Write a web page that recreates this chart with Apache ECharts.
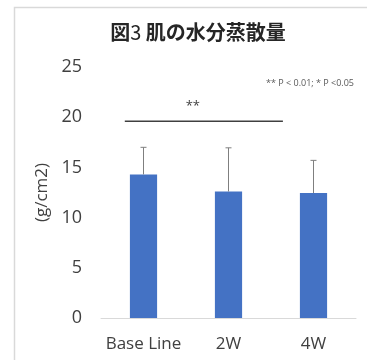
<!DOCTYPE html>
<html>
<head>
<meta charset="utf-8">
<script src="https://cdn.jsdelivr.net/npm/echarts@6/dist/echarts.min.js"></script>
<style>
  html, body { margin: 0; padding: 0; background: #fff; }
  #chart { width: 367px; height: 360px; }
</style>
</head>
<body>
<div id="chart"></div>
<script>
// Skin water evaporation by timepoint (mean with +SD)
const categories = ['Base Line', '2W', '4W'];
const meanValues = [14.3, 12.6, 12.45];
const sdValues = [2.7, 4.35, 3.25];
const yTicks = [0, 5, 10, 15, 20, 25];

// Significance bracket: ends in category band units, level in data units
const bracketEnds = [-0.22, 1.64];
const bracketLevel = 19.6;
const bracketMark = '**';
const noteText = '** P < 0.01; * P <0.05';

const fontFamily = '"Open Sans", "Noto Sans", "Noto Sans CJK JP", sans-serif';
const cjkFamily = '"Noto Sans CJK JP", sans-serif';
const textColor = '#404040';

const chart = echarts.init(document.getElementById('chart'), null, { renderer: 'canvas' });

const errorData = categories.map((c, i) => [i, meanValues[i], meanValues[i] + sdValues[i]]);

chart.setOption({
  backgroundColor: '#ffffff',
  animation: false,
  title: {
    // figure number digit drawn in regular weight, the rest bold
    text: '{b|図}{n|3 }{b|肌の水分蒸散量}',
    left: 193,
    textAlign: 'center',
    top: 17,
    textStyle: {
      rich: {
        b: { fontFamily: cjkFamily, fontSize: 20, fontWeight: 'bold', color: '#262626' },
        n: { fontFamily: cjkFamily, fontSize: 20, fontWeight: 'normal', color: '#262626' }
      }
    }
  },
  graphic: [
    {
      type: 'rect',
      shape: { x: 14.5, y: 7.5, width: 420, height: 420 },
      style: { fill: 'none', stroke: '#d9d9d9', lineWidth: 1.5 },
      silent: true
    },
    {
      type: 'text',
      right: 13,
      top: 79,
      style: {
        text: noteText,
        fontFamily: fontFamily,
        fontSize: 9,
        fill: '#595959'
      }
    }
  ],
  grid: { left: 101, right: 11, top: 67, bottom: 42 },
  xAxis: {
    type: 'category',
    data: categories,
    axisLine: { lineStyle: { color: '#d9d9d9', width: 1 } },
    axisTick: { show: false },
    axisLabel: {
      interval: 0,
      fontFamily: fontFamily,
      fontSize: 17,
      color: textColor,
      margin: 18
    }
  },
  yAxis: {
    type: 'value',
    min: yTicks[0],
    max: yTicks[yTicks.length - 1],
    interval: yTicks[1] - yTicks[0],
    name: '(g/cm2)',
    nameLocation: 'middle',
    nameGap: 48,
    nameRotate: 90,
    nameTextStyle: { fontFamily: fontFamily, fontSize: 17, color: textColor },
    axisLine: { show: false },
    axisTick: { show: false },
    splitLine: { show: false },
    axisLabel: {
      fontFamily: fontFamily,
      fontSize: 18,
      color: textColor,
      margin: 19
    }
  },
  series: [
    {
      type: 'bar',
      data: meanValues,
      barWidth: '32%',
      itemStyle: { color: '#4472c4' },
      z: 2
    },
    {
      // upward standard-deviation whiskers with caps
      type: 'custom',
      data: errorData,
      z: 3,
      renderItem: function (params, api) {
        const base = api.coord([api.value(0), api.value(1)]);
        const top = api.coord([api.value(0), api.value(2)]);
        const cap = 3;
        const style = { stroke: '#7f7f7f', lineWidth: 1 };
        return {
          type: 'group',
          children: [
            { type: 'line', shape: { x1: base[0], y1: base[1], x2: top[0], y2: top[1] }, style: style },
            { type: 'line', shape: { x1: top[0] - cap, y1: top[1], x2: top[0] + cap, y2: top[1] }, style: style }
          ]
        };
      }
    },
    {
      // significance bracket across the first two groups
      type: 'custom',
      data: [[bracketEnds[0], bracketEnds[1], bracketLevel]],
      z: 4,
      renderItem: function (params, api) {
        const band = api.size([1, 0])[0];
        const origin = api.coord([0, api.value(2)]);
        const x1 = origin[0] + api.value(0) * band;
        const x2 = origin[0] + api.value(1) * band;
        const y = origin[1];
        return {
          type: 'group',
          children: [
            { type: 'line', shape: { x1: x1, y1: y, x2: x2, y2: y }, style: { stroke: '#404040', lineWidth: 1.5 } },
            {
              type: 'text',
              style: {
                text: bracketMark,
                x: (x1 + x2) / 2 - 11,
                y: y - 15,
                textAlign: 'center',
                textVerticalAlign: 'middle',
                fontFamily: fontFamily,
                fontSize: 13,
                fill: '#404040'
              }
            }
          ]
        };
      }
    }
  ]
});
</script>
</body>
</html>
